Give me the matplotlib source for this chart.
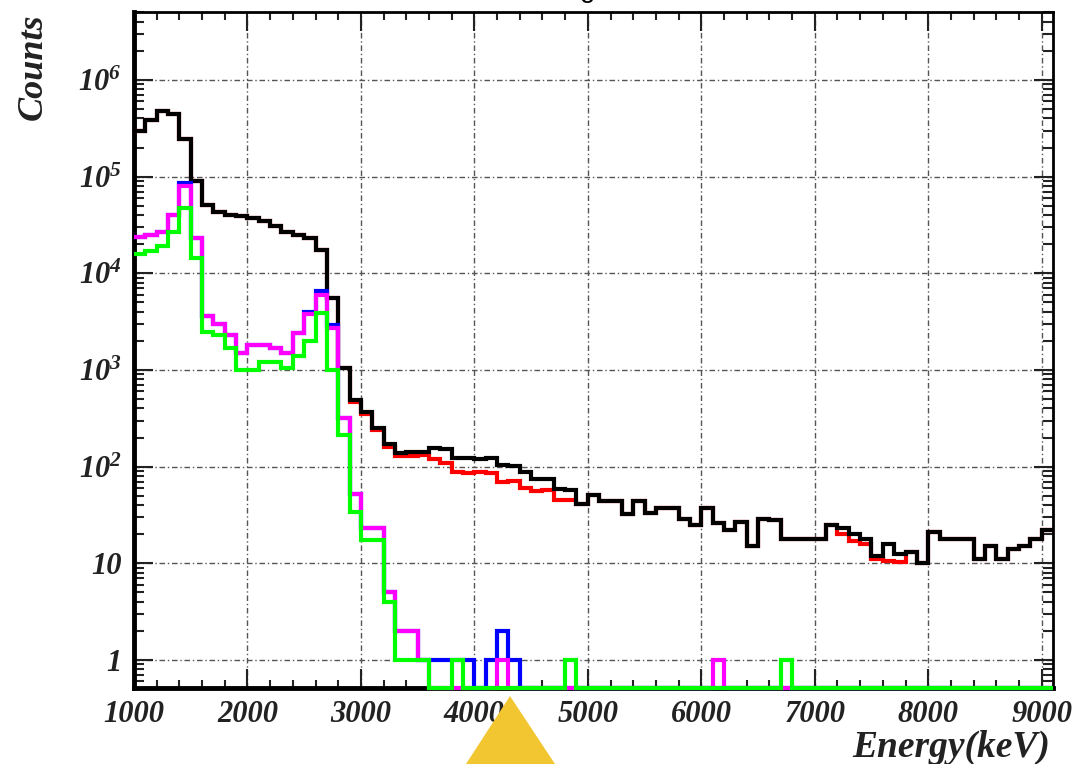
import numpy as np
import matplotlib
matplotlib.use("Agg")
import matplotlib.pyplot as plt
from matplotlib.patches import Polygon
from matplotlib.ticker import LogLocator, FixedLocator, MultipleLocator, NullFormatter

# 100 keV bins from 1000 to 9100 keV
energy_edges = np.arange(1000, 9101, 100)

counts_black = [
    3.0e5, 3.85e5, 4.8e5, 4.4e5, 2.45e5, 9.0e4, 5.1e4, 4.3e4, 4.0e4, 3.9e4,
    3.7e4, 3.5e4, 3.1e4, 2.7e4, 2.5e4, 2.3e4, 1.75e4, 5.6e3, 1.06e3, 490,
    366, 250, 170, 138, 143, 142, 155, 152, 122, 124,
    121, 123, 104, 102, 89, 74, 75, 59, 58, 41,
    51, 44, 44, 32, 44, 33, 37, 37, 29, 25,
    37, 26, 22, 27, 15, 29, 28, 18, 18, 18,
    18, 25, 23, 20, 18, 12, 16, 12.5, 13, 10,
    21, 18, 18, 18, 11, 15, 11, 14, 15, 18,
    22]

counts_red = [
    3.0e5, 3.85e5, 4.8e5, 4.4e5, 2.45e5, 9.0e4, 5.1e4, 4.3e4, 4.0e4, 3.9e4,
    3.7e4, 3.5e4, 3.1e4, 2.7e4, 2.5e4, 2.3e4, 1.75e4, 5.6e3, 1.06e3, 470,
    350, 240, 160, 128, 130, 133, 120, 108, 88, 86,
    88, 86, 70, 71, 60, 56, 58, 45, 45, 41,
    51, 44, 44, 32, 44, 33, 37, 37, 29, 25,
    37, 26, 22, 27, 15, 29, 28, 18, 18, 18,
    18, 25, 20, 17, 16, 11, 10.5, 10.3, 13, 10,
    21, 18, 18, 18, 11, 15, 11, 14, 15, 18,
    22]

counts_blue = [
    2.4e4, 2.5e4, 2.7e4, 4.0e4, 8.6e4, 2.3e4, 3.6e3, 3.0e3, 2.3e3, 1.5e3,
    1.8e3, 1.8e3, 1.7e3, 1.5e3, 2.4e3, 4.0e3, 6.6e3, 2.9e3, 320, 52,
    23, 23, 5, 2, 2, 1, 1, 1, 1, 1,
    0, 1, 2, 1, 0, 0, 0, 0, 0, 0,
    0, 0, 0, 0, 0, 0, 0, 0, 0, 0,
    0, 0, 0, 0, 0, 0, 0, 0, 0, 0,
    0, 0, 0, 0, 0, 0, 0, 0, 0, 0,
    0, 0, 0, 0, 0, 0, 0, 0, 0, 0,
    0]

counts_magenta = [
    2.4e4, 2.5e4, 2.7e4, 4.0e4, 8.0e4, 2.3e4, 3.6e3, 3.0e3, 2.3e3, 1.5e3,
    1.8e3, 1.8e3, 1.7e3, 1.5e3, 2.4e3, 3.8e3, 6.0e3, 2.7e3, 320, 52,
    23, 23, 5, 2, 2, 1, 0, 0, 0, 0,
    0, 0, 1, 0, 0, 0, 0, 0, 0, 0,
    0, 0, 0, 0, 0, 0, 0, 0, 0, 0,
    0, 1, 0, 0, 0, 0, 0, 0, 0, 0,
    0, 0, 0, 0, 0, 0, 0, 0, 0, 0,
    0, 0, 0, 0, 0, 0, 0, 0, 0, 0,
    0]

counts_green = [
    1.6e4, 1.7e4, 1.9e4, 2.7e4, 4.7e4, 1.45e4, 2.5e3, 2.3e3, 1.7e3, 1.0e3,
    1.0e3, 1.2e3, 1.2e3, 1.05e3, 1.4e3, 2.0e3, 3.9e3, 1.0e3, 210, 34,
    17.5, 17.5, 4, 1, 1, 1, 0, 0, 1, 0,
    0, 0, 0, 0, 0, 0, 0, 0, 1, 0,
    0, 0, 0, 0, 0, 0, 0, 0, 0, 0,
    0, 0, 0, 0, 0, 0, 0, 1, 0, 0,
    0, 0, 0, 0, 0, 0, 0, 0, 0, 0,
    0, 0, 0, 0, 0, 0, 0, 0, 0, 0,
    0]

x_ticks = [1000, 2000, 3000, 4000, 5000, 6000, 7000, 8000, 9000]
y_ticks = [1, 10, 1e2, 1e3, 1e4, 1e5, 1e6]
y_tick_labels = ["1", "10", "10$^{2}$", "10$^{3}$", "10$^{4}$", "10$^{5}$", "10$^{6}$"]

Y_MIN, Y_MAX = 0.513, 5.05e6
X_MIN, X_MAX = 1000, 9100

plt.rcParams["font.family"] = ["Liberation Serif", "DejaVu Serif"]
plt.rcParams["mathtext.fontset"] = "custom"
plt.rcParams["mathtext.rm"] = "Liberation Serif:italic:bold"
plt.rcParams["mathtext.it"] = "Liberation Serif:italic:bold"
plt.rcParams["mathtext.bf"] = "Liberation Serif:italic:bold"

fig = plt.figure(figsize=(10.79, 7.64), dpi=100)
ax = fig.add_axes([134 / 1079, 1 - 688 / 764, (1053 - 134) / 1079, (688 - 12) / 764])
ax.set_yscale("log")
ax.set_xlim(X_MIN, X_MAX)
ax.set_ylim(Y_MIN, Y_MAX)

# grid first, underneath everything
ax.grid(True, which="major", color="#555555", linestyle=(0, (4, 2, 1, 2)), linewidth=1.0)
ax.set_axisbelow(True)


def draw_hist(values, color, z):
    v = np.asarray(values, dtype=float)
    v = np.where(v > 0, v, Y_MIN)  # empty bins sit on the floor of the log axis
    ax.stairs(v, energy_edges, baseline=None, color=color, linewidth=3.0,
              zorder=z, clip_on=False)


draw_hist(counts_red, "#ff0000", 3)
draw_hist(counts_black, "#000000", 4)
draw_hist(counts_blue, "#0000ff", 5)
draw_hist(counts_magenta, "#ff00ff", 6)
draw_hist(counts_green, "#00ff00", 7)

# axes styling
for side in ("left", "bottom"):
    ax.spines[side].set_linewidth(3.5)
for side in ("top", "right"):
    ax.spines[side].set_linewidth(2.0)
for sp in ax.spines.values():
    sp.set_zorder(2)

ax.xaxis.set_major_locator(FixedLocator(x_ticks))
ax.xaxis.set_minor_locator(MultipleLocator(200))
ax.set_xticklabels([str(t) for t in x_ticks])
ax.yaxis.set_major_locator(FixedLocator(y_ticks))
ax.set_yticklabels(y_tick_labels)
ax.yaxis.set_minor_locator(LogLocator(base=10, subs=np.arange(2, 10), numticks=20))
ax.yaxis.set_minor_formatter(NullFormatter())

ax.tick_params(axis="both", which="both", direction="in", top=True, right=True,
               width=1.5, color="#222222")
ax.tick_params(axis="x", which="major", length=14, pad=9)
ax.tick_params(axis="x", which="minor", length=6)
ax.tick_params(axis="y", which="major", length=14, pad=9)
ax.tick_params(axis="y", which="minor", length=7)

tick_font = dict(family="Liberation Serif", style="italic", weight="bold", size=22)
for lab in ax.get_xticklabels() + ax.get_yticklabels():
    lab.set_fontproperties(matplotlib.font_manager.FontProperties(**tick_font))
    lab.set_color("#222222")

fig.text(33 / 1079, 1 - 13 / 764, "Counts", rotation=90, ha="center", va="top",
         family="Liberation Serif", style="italic", weight="bold", size=26, color="#222222")
fig.text(1050 / 1079, 1 - 747 / 764, "Energy(keV)", ha="right", va="center",
         family="Liberation Serif", style="italic", weight="bold", size=27, color="#222222")

# title line sitting just above the canvas
fig.text(588 / 1079, 1 + 3 / 764, "g", ha="center", va="baseline",
         family="Liberation Sans", size=20, color="black")

# yellow pointer marker at the bottom edge
tri = Polygon([[466 / 1079, 0.0], [555 / 1079, 0.0], [510 / 1079, 1 - 696 / 764]],
              closed=True, transform=fig.transFigure, facecolor="#f2c631",
              edgecolor="none", zorder=10)
fig.patches.append(tri)

fig.savefig("out.png", dpi=100)
